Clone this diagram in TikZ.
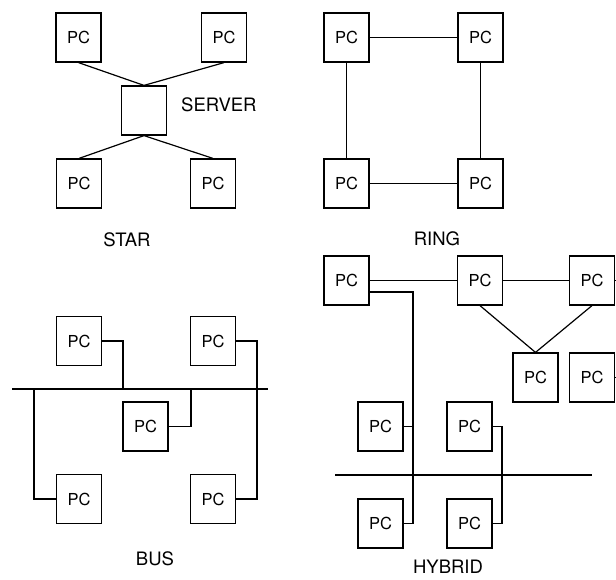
\documentclass[tikz,border=0pt]{standalone}
\usepackage{fontspec}
\setmainfont{TeX Gyre Heros}
\begin{document}
\begin{tikzpicture}[x=1pt,y=-1pt,
  pc/.style={draw, line width=1.2pt, minimum width=45pt, minimum height=49pt, inner sep=0pt, font=\fontsize{16.5}{18}\selectfont},
  lbl/.style={font=\fontsize{18.5}{20}\selectfont, inner sep=0pt},
  wire/.style={line width=1.2pt}]
\useasboundingbox (0,0) rectangle (616,579);
% ---------- STAR ----------
\node[pc] (sTL) at (78.5,37.5) {PC};
\node[pc] (sTR) at (224,37.5) {PC};
\node[pc] (srv) at (144,110.5) {};
\node[pc] (sBL) at (79,183.5) {PC};
\node[pc] (sBR) at (213,183.5) {PC};
\node[lbl, anchor=west] (srvlbl) at (181,105) {SERVER};
\node[lbl] (star) at (127,240) {STAR};
\draw[wire] (sTL.south) -- (srv.north);
\draw[wire] (sTR.south) -- (srv.north);
\draw[wire] (srv.south) -- (sBL.north);
\draw[wire] (srv.south) -- (sBR.north);
% ---------- RING ----------
\node[pc] (rTL) at (346.5,37.5) {PC};
\node[pc] (rTR) at (480.5,37.5) {PC};
\node[pc] (rBL) at (346.5,183.5) {PC};
\node[pc] (rBR) at (480.5,183.5) {PC};
\node[lbl] (ring) at (437,239) {RING};
\draw[wire] (rTL.east) -- (rTR.west);
\draw[wire] (rTL.south) -- (rBL.north);
\draw[wire] (rTR.south) -- (rBR.north);
\draw[wire] (rBL.east) -- (rBR.west);
% ---------- BUS ----------
\node[pc] (bTL) at (79,341) {PC};
\node[pc] (bTR) at (213,341) {PC};
\node[pc] (bM) at (145.5,426.5) {PC};
\node[pc] (bBL) at (79,499) {PC};
\node[pc] (bBR) at (213,499) {PC};
\node[lbl] (bus) at (155,559) {BUS};
\coordinate (busL) at (12,389);
\coordinate (busR) at (268,389);
\coordinate (b1) at (123,389);
\coordinate (b2) at (257,389);
\coordinate (b3) at (191,389);
\coordinate (b4) at (34,389);
\draw[wire] (busL) -- (busR);
\draw[wire] (bTL.east) -| (b1);
\draw[wire] (bTR.east) -| (b2) |- (bBR.east);
\draw[wire] (b3) |- (bM.east);
\draw[wire] (b4) |- (bBL.west);
% ---------- HYBRID ----------
\node[pc] (h1) at (346.5,280.5) {PC};
\node[pc] (h2) at (480,280.5) {PC};
\node[pc] (h3) at (592,280.5) {PC};
\node[pc] (h4) at (535.5,377.5) {PC};
\node[pc] (h5) at (592,377.5) {PC};
\node[pc] (h6) at (380.5,426.5) {PC};
\node[pc] (h7) at (469.5,426.5) {PC};
\node[pc] (h8) at (380.5,523.5) {PC};
\node[pc] (h9) at (469.5,523.5) {PC};
\node[lbl] (hyb) at (448,567) {HYBRID};
\coordinate (hbL) at (335,475);
\coordinate (hbR) at (592,475);
\coordinate (hx1) at (413,475);
\coordinate (hx2) at (502,475);
\coordinate (e3) at (625,280.5);
\coordinate (e5) at (625,377.5);
\draw[wire] (hbL) -- (hbR);
\draw[wire] (h1.east) -- (h2.west);
\draw[wire] (h2.east) -- (h3.west);
\draw[wire] (h3.east) -- (e3);
\draw[wire] (h5.east) -- (e5);
\draw[wire] (h2.south) -- (h4.north);
\draw[wire] (h3.south) -- (h4.north);
\draw[wire] ([yshift=-11.5pt]h1.east) -| (hx1) |- (h8.east);
\draw[wire] (h6.east) -- (h6.east -| hx1);
\draw[wire] (h7.east) -| (hx2) |- (h9.east);
\end{tikzpicture}
\end{document}
